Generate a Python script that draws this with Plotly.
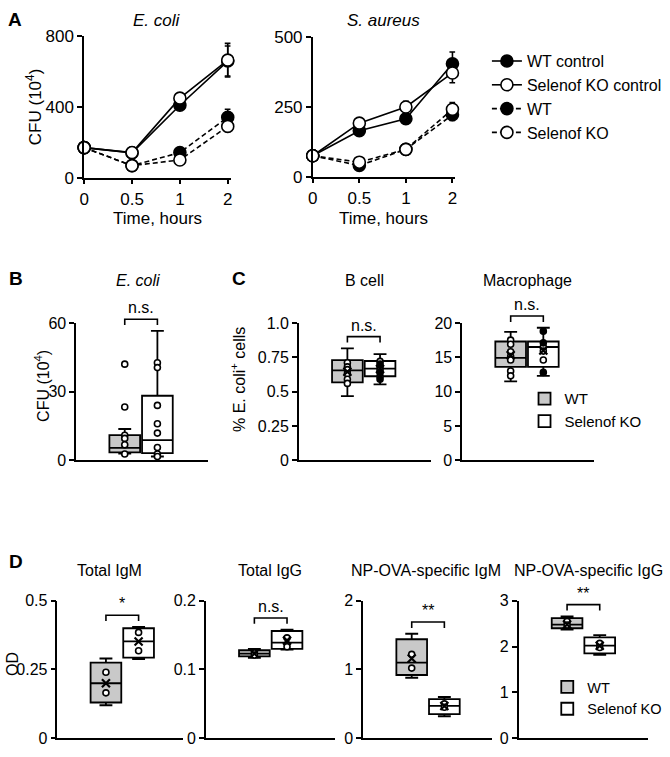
import plotly.graph_objects as go

W, H = 670, 757

# ---------------- data ----------------
# panel A : CFU (10^4) over time
time_labels = ["0", "0.5", "1", "2"]
ecoli_wt_ctrl = [170, 140, 410, 660]
ecoli_ko_ctrl = [170, 142, 450, 665]
ecoli_wt = [170, 68, 142, 342]
ecoli_ko = [170, 68, 100, 290]
ecoli_wt_ctrl_err = [8, 10, 18, 85]
ecoli_ko_ctrl_err = [8, 10, 22, 95]
ecoli_wt_err = [6, 8, 12, 45]
ecoli_ko_err = [6, 8, 10, 28]

saureus_wt_ctrl = [75, 165, 208, 405]
saureus_ko_ctrl = [75, 192, 250, 372]
saureus_wt = [75, 40, 98, 222]
saureus_ko = [75, 52, 98, 242]
saureus_wt_ctrl_err = [5, 12, 12, 42]
saureus_ko_ctrl_err = [5, 15, 20, 35]
saureus_wt_err = [5, 8, 10, 20]
saureus_ko_err = [5, 8, 10, 24]

series_names = ["WT control", "Selenof KO control", "WT", "Selenof KO"]
groups = ["WT", "Selenof KO"]

# panel B : E. coli CFU, box stats = [lower, q1, median, q3, upper]
b_wt_box = [3.0, 3.5, 5.5, 11.0, 13.7]
b_ko_box = [1.7, 3.2, 8.8, 28.2, 56.5]
b_wt_pts = [42, 23.3, 11, 9.6, 6.8, 2.8]
b_ko_pts = [42.6, 40.5, 24, 16, 11.9, 5.6, 2.8, 1.7]

# panel C : % E. coli+ cells (open and filled individual points)
c_bcell_wt_box = [0.468, 0.567, 0.655, 0.73, 0.815]
c_bcell_ko_box = [0.553, 0.612, 0.667, 0.723, 0.773]
c_bcell_wt_pts = [0.71, 0.68, 0.66, 0.63, 0.59, 0.56]
c_bcell_ko_pts = [0.72, 0.68, 0.66, 0.61]
c_bcell_ko_filled = [0.70, 0.64, 0.59]
c_bcell_mean = [0.645, 0.665]

c_mac_wt_box = [11.5, 13.6, 14.9, 17.3, 18.7]
c_mac_ko_box = [12.3, 13.6, 16.5, 17.3, 19.3]
c_mac_wt_pts = [17.5, 16.9, 15.8, 15.1, 14.6, 13.0, 12.3]
c_mac_ko_pts = [16.5, 15.9, 14.6]
c_mac_ko_filled = [18.8, 17.1, 12.8]
c_mac_mean = [15.3, 16.0]

# panel D : OD
d_titles = ["Total IgM", "Total IgG", "NP-OVA-specific IgM", "NP-OVA-specific IgG"]
d_wt_box = [[0.12, 0.13, 0.20, 0.275, 0.29],
            [0.117, 0.119, 0.123, 0.128, 0.13],
            [0.88, 0.92, 1.10, 1.44, 1.52],
            [2.37, 2.40, 2.48, 2.62, 2.66]]
d_ko_box = [[0.288, 0.293, 0.352, 0.40, 0.405],
            [0.129, 0.13, 0.139, 0.156, 0.158],
            [0.32, 0.35, 0.47, 0.57, 0.60],
            [1.82, 1.85, 2.02, 2.20, 2.25]]
d_wt_pts = [[0.24, 0.165], [0.124, 0.121], [1.22, 1.02], [2.55, 2.47]]
d_ko_pts = [[0.385, 0.318], [0.146, 0.133], [0.50, 0.45], [2.07, 1.98]]
d_wt_mean = [0.20, 0.123, 1.16, 2.48]
d_ko_mean = [0.352, 0.142, 0.47, 2.02]
d_sig = ["*", "n.s.", "**", "**"]
d_yticks = [[0, 0.25, 0.5], [0, 0.1, 0.2], [0, 1, 2], [0, 1, 2, 3]]
d_yticktext = [["0", "0.25", "0.5"], ["0", "0.1", "0.2"], ["0", "1", "2"], ["0", "1", "2", "3"]]

# ---------------- helpers ----------------
FONT = "Liberation Sans, Arial, sans-serif"
GRAY = "#c9c9c9"
X0 = -0.485      # x range start of box panels
XPX = 33.0       # px per category step in box panels


def px(x):
    return x / W


def py(y):
    return 1 - y / H


def dx(a, b):
    return [px(a), px(b)]


def dy(top, bottom):
    return [py(bottom), py(top)]


axis_base = dict(showline=True, linecolor="black", linewidth=1.6, ticks="outside",
                 ticklen=5, tickwidth=1.6, tickcolor="black", showgrid=False,
                 zeroline=False, tickfont=dict(size=16, color="black", family=FONT),
                 fixedrange=True)

fig = go.Figure()
layout = {}
annotations = []
shapes = []


def txt(x, y, text, size=16, **kw):
    annotations.append(dict(x=px(x), y=py(y), xref="paper", yref="paper", text=text,
                            xanchor="center", yanchor="middle", showarrow=False,
                            font=dict(size=size, color="black", family=FONT), **kw))


# ---------------- panel A ----------------
a_sets = [
    (1, (80, 228), (28, 173), [0, 400, 800], [ecoli_wt_ctrl, ecoli_ko_ctrl, ecoli_wt, ecoli_ko],
     [ecoli_wt_ctrl_err, ecoli_ko_ctrl_err, ecoli_wt_err, ecoli_ko_err]),
    (2, (311, 455), (29, 172), [0, 250, 500], [saureus_wt_ctrl, saureus_ko_ctrl, saureus_wt, saureus_ko],
     [saureus_wt_ctrl_err, saureus_ko_ctrl_err, saureus_wt_err, saureus_ko_err]),
]
styles = [("solid", "black"), ("solid", "white"), ("5px,3px", "black"), ("5px,3px", "white")]
xpos = list(range(len(time_labels)))
for n, xd, yd, yt, series, errs in a_sets:
    sfx = "" if n == 1 else str(n)
    layout["xaxis" + sfx] = dict(axis_base, domain=dx(*xd), range=[0, 3.06], tickvals=xpos,
                                 ticktext=time_labels, anchor="y" + sfx,
                                 tickfont=dict(size=17, color="black", family=FONT))
    layout["yaxis" + sfx] = dict(axis_base, domain=dy(*yd), range=[0, yt[-1]], tickvals=yt,
                                 anchor="x" + sfx,
                                 tickfont=dict(size=17, color="black", family=FONT))
    for i, (vals, err) in enumerate(zip(series, errs)):
        dash, fill = styles[i]
        fig.add_trace(go.Scatter(
            x=xpos, y=vals, mode="lines+markers", name=series_names[i],
            xaxis="x" + sfx, yaxis="y" + sfx, cliponaxis=False,
            line=dict(color="black", width=1.6, dash=dash),
            marker=dict(size=12, color=fill, line=dict(color="black", width=1.6)),
            error_y=dict(type="data", array=err, color="black", thickness=1.6, width=3),
            showlegend=(n == 1), legend="legend"))

txt(10, 11, "<b>A</b>", size=19)
txt(154, 12, "<i>E. coli</i>", size=17)
txt(383, 12, "<i>S. aureus</i>", size=17)
txt(154, 215, "Time, hours", size=17)
txt(383, 215, "Time, hours", size=17)
txt(30, 100, "CFU (10<sup>4</sup>)", size=17, textangle=-90)

# ---------------- box panels ----------------
BOXW = 0.94


def box_panel(n, xd, yd, yrange, yt, ytt, wt_box, ko_box, wt_pts, ko_pts, means, sig,
              legend=None, filled=None):
    sfx = str(n)
    layout["xaxis" + sfx] = dict(axis_base, domain=dx(*xd), ticks="", showticklabels=False,
                                 range=[X0, X0 + (xd[1] - xd[0]) / XPX], anchor="y" + sfx)
    layout["yaxis" + sfx] = dict(axis_base, domain=dy(*yd), range=yrange, tickvals=yt,
                                 ticktext=ytt, anchor="x" + sfx)
    for k, (st, fill) in enumerate([(wt_box, GRAY), (ko_box, "white")]):
        fig.add_trace(go.Box(
            x=[k + 1], lowerfence=[st[0]], q1=[st[1]], median=[st[2]], q3=[st[3]],
            upperfence=[st[4]], width=BOXW, whiskerwidth=0.42, fillcolor=fill,
            line=dict(color="black", width=1.8), boxpoints=False, name=groups[k],
            xaxis="x" + sfx, yaxis="y" + sfx, hoverinfo="skip",
            showlegend=legend is not None, legend=legend or "legend"))
    for k, pts in enumerate([wt_pts, ko_pts]):
        fig.add_trace(go.Scatter(
            x=[k + 1] * len(pts), y=pts, mode="markers", xaxis="x" + sfx, yaxis="y" + sfx,
            marker=dict(size=6, color="white", line=dict(color="black", width=1.6)),
            showlegend=False, cliponaxis=False))
    if filled:
        fig.add_trace(go.Scatter(
            x=[2] * len(filled), y=filled, mode="markers", xaxis="x" + sfx, yaxis="y" + sfx,
            marker=dict(size=6, color="black", line=dict(color="black", width=1.6)),
            showlegend=False, cliponaxis=False))
    if means is not None:
        fig.add_trace(go.Scatter(
            x=[1, 2], y=means, mode="markers", xaxis="x" + sfx, yaxis="y" + sfx,
            marker=dict(symbol="x-thin-open", size=8, color="black",
                        line=dict(color="black", width=2.2)),
            showlegend=False, cliponaxis=False))
    # significance bracket, placed above the highest whisker
    hpx = yd[1] - yd[0]
    top_val = max(wt_box[4], ko_box[4])
    top_px = yd[1] - (top_val - yrange[0]) / (yrange[1] - yrange[0]) * hpx - 12
    bot_px = top_px + 6
    xl = xd[0] + (1 - X0) * XPX
    xr = xd[0] + (2 - X0) * XPX
    shapes.append(dict(type="path", xref="paper", yref="paper",
                       path=f"M {px(xl)},{py(bot_px)} L {px(xl)},{py(top_px)} "
                            f"L {px(xr)},{py(top_px)} L {px(xr)},{py(bot_px)}",
                       line=dict(color="black", width=1.6)))
    annotations.append(dict(x=px((xl + xr) / 2), y=py(top_px), xref="paper", yref="paper",
                            text=sig, showarrow=False, xanchor="center", yanchor="bottom",
                            yshift=1, font=dict(size=16, color="black", family=FONT)))


# panel B
box_panel(3, (72, 205), (322, 463), [0, 60], [0, 30, 60], ["0", "30", "60"],
          b_wt_box, b_ko_box, b_wt_pts, b_ko_pts, None, "n.s.")
txt(11, 276, "<b>B</b>", size=19)
txt(134, 279, "<i>E. coli</i>")
txt(38, 387, "CFU (10<sup>4</sup>)", textangle=-90)

# panel C
box_panel(4, (297, 430), (322, 463), [0, 1], [0, 0.25, 0.5, 0.75, 1.0],
          ["0", "0.25", "0.5", "0.75", "1.0"], c_bcell_wt_box, c_bcell_ko_box,
          c_bcell_wt_pts, c_bcell_ko_pts, c_bcell_mean, "n.s.", filled=c_bcell_ko_filled)
box_panel(5, (462, 595), (322, 463), [0, 20], [0, 5, 10, 15, 20],
          ["0", "5", "10", "15", "20"], c_mac_wt_box, c_mac_ko_box,
          c_mac_wt_pts, c_mac_ko_pts, c_mac_mean, "n.s.", legend="legend2",
          filled=c_mac_ko_filled)
txt(236, 276, "<b>C</b>", size=19)
txt(363, 279, "B cell")
txt(528, 279, "Macrophage")
txt(236, 380, "% E. coli<sup>+</sup> cells", textangle=-90)

# panel D
d_axes = [(53, 180), (203, 333), (362, 492), (519, 650)]
for i in range(4):
    box_panel(6 + i, d_axes[i], (607, 748), [0, d_yticks[i][-1]], d_yticks[i], d_yticktext[i],
              d_wt_box[i], d_ko_box[i], d_wt_pts[i], d_ko_pts[i],
              [d_wt_mean[i], d_ko_mean[i]], d_sig[i],
              legend="legend3" if i == 3 else None)
txt(106, 576, d_titles[0])
txt(268, 576, d_titles[1])
txt(425, 576, d_titles[2])
txt(590, 576, d_titles[3])
txt(11, 567, "<b>D</b>", size=19)
txt(7, 672, "OD", textangle=-90)

legend_common = dict(xanchor="left", yanchor="top", bgcolor="rgba(0,0,0,0)",
                     itemwidth=30, tracegroupgap=0, itemclick=False, itemdoubleclick=False)
layout.update(
    width=W, height=H, margin=dict(l=0, r=0, t=0, b=0),
    paper_bgcolor="white", plot_bgcolor="white",
    font=dict(family=FONT, size=16, color="black"),
    annotations=annotations, shapes=shapes,
    legend=dict(legend_common, x=px(487), y=py(36), font=dict(size=16)),
    legend2=dict(legend_common, x=px(525), y=py(383), font=dict(size=15)),
    legend3=dict(legend_common, x=px(548), y=py(679), font=dict(size=14.5)),
)
fig.update_layout(layout)
# drop the default body margin so the 670x757 figure fills the page exactly
fig.write_html("out.html", config={"displayModeBar": False},
               post_script="document.body.style.margin='0';")
